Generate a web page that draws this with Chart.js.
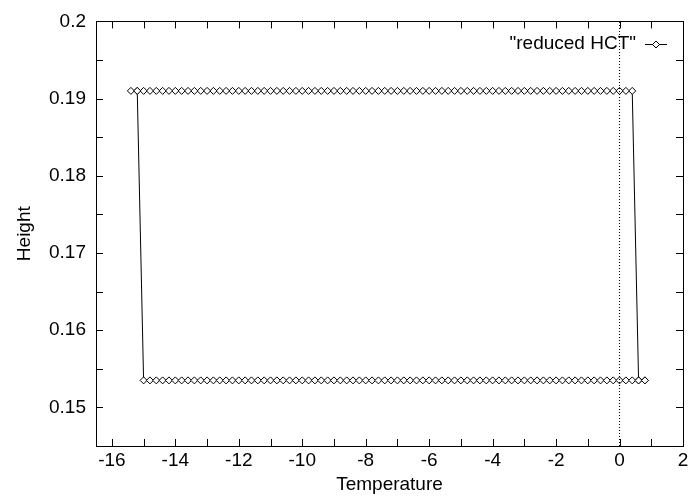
<!DOCTYPE html>
<html>
<head>
<meta charset="utf-8">
<script src="https://cdn.jsdelivr.net/npm/chart.js@4/dist/chart.umd.min.js"></script>
<style>
  html, body { margin: 0; padding: 0; background: #fff; }
  #wrap { width: 688px; height: 496px; }
</style>
</head>
<body>
<div id="wrap"><canvas id="c" width="688" height="496"></canvas></div>
<script>
// ---- data ----
const seriesLabel = '"reduced HCT"';
const xTitle = 'Temperature';
const yTitle = 'Height';

// cooling branch (from +0.8 down to -15.4)
const coolTemp = [0.8, 0.6, 0.4, 0.2, 0.0, -0.2, -0.4, -0.6, -0.8, -1.0,
  -1.2, -1.4, -1.6, -1.8, -2.0, -2.2, -2.4, -2.6, -2.8, -3.0,
  -3.2, -3.4, -3.6, -3.8, -4.0, -4.2, -4.4, -4.6, -4.8, -5.0,
  -5.2, -5.4, -5.6, -5.8, -6.0, -6.2, -6.4, -6.6, -6.8, -7.0,
  -7.2, -7.4, -7.6, -7.8, -8.0, -8.2, -8.4, -8.6, -8.8, -9.0,
  -9.2, -9.4, -9.6, -9.8, -10.0, -10.2, -10.4, -10.6, -10.8, -11.0,
  -11.2, -11.4, -11.6, -11.8, -12.0, -12.2, -12.4, -12.6, -12.8, -13.0,
  -13.2, -13.4, -13.6, -13.8, -14.0, -14.2, -14.4, -14.6, -14.8, -15.0,
  -15.2, -15.4];
const coolHeight = [0.1535, 0.1535, 0.191, 0.191, 0.191, 0.191, 0.191, 0.191, 0.191, 0.191,
  0.191, 0.191, 0.191, 0.191, 0.191, 0.191, 0.191, 0.191, 0.191, 0.191,
  0.191, 0.191, 0.191, 0.191, 0.191, 0.191, 0.191, 0.191, 0.191, 0.191,
  0.191, 0.191, 0.191, 0.191, 0.191, 0.191, 0.191, 0.191, 0.191, 0.191,
  0.191, 0.191, 0.191, 0.191, 0.191, 0.191, 0.191, 0.191, 0.191, 0.191,
  0.191, 0.191, 0.191, 0.191, 0.191, 0.191, 0.191, 0.191, 0.191, 0.191,
  0.191, 0.191, 0.191, 0.191, 0.191, 0.191, 0.191, 0.191, 0.191, 0.191,
  0.191, 0.191, 0.191, 0.191, 0.191, 0.191, 0.191, 0.191, 0.191, 0.191,
  0.191, 0.191];

// heating branch (from -15.2 up to +0.8)
const heatTemp = [-15.2, -15.0, -14.8, -14.6, -14.4, -14.2, -14.0, -13.8, -13.6, -13.4,
  -13.2, -13.0, -12.8, -12.6, -12.4, -12.2, -12.0, -11.8, -11.6, -11.4,
  -11.2, -11.0, -10.8, -10.6, -10.4, -10.2, -10.0, -9.8, -9.6, -9.4,
  -9.2, -9.0, -8.8, -8.6, -8.4, -8.2, -8.0, -7.8, -7.6, -7.4,
  -7.2, -7.0, -6.8, -6.6, -6.4, -6.2, -6.0, -5.8, -5.6, -5.4,
  -5.2, -5.0, -4.8, -4.6, -4.4, -4.2, -4.0, -3.8, -3.6, -3.4,
  -3.2, -3.0, -2.8, -2.6, -2.4, -2.2, -2.0, -1.8, -1.6, -1.4,
  -1.2, -1.0, -0.8, -0.6, -0.4, -0.2, 0.0, 0.2, 0.4, 0.6,
  0.8];
const heatHeight = [0.191, 0.1535, 0.1535, 0.1535, 0.1535, 0.1535, 0.1535, 0.1535, 0.1535, 0.1535,
  0.1535, 0.1535, 0.1535, 0.1535, 0.1535, 0.1535, 0.1535, 0.1535, 0.1535, 0.1535,
  0.1535, 0.1535, 0.1535, 0.1535, 0.1535, 0.1535, 0.1535, 0.1535, 0.1535, 0.1535,
  0.1535, 0.1535, 0.1535, 0.1535, 0.1535, 0.1535, 0.1535, 0.1535, 0.1535, 0.1535,
  0.1535, 0.1535, 0.1535, 0.1535, 0.1535, 0.1535, 0.1535, 0.1535, 0.1535, 0.1535,
  0.1535, 0.1535, 0.1535, 0.1535, 0.1535, 0.1535, 0.1535, 0.1535, 0.1535, 0.1535,
  0.1535, 0.1535, 0.1535, 0.1535, 0.1535, 0.1535, 0.1535, 0.1535, 0.1535, 0.1535,
  0.1535, 0.1535, 0.1535, 0.1535, 0.1535, 0.1535, 0.1535, 0.1535, 0.1535, 0.1535,
  0.1535];

// axis ranges / tick positions / tick labels
const xMin = -16.5, xMax = 2;
const xTicks = [-16, -15, -14, -13, -12, -11, -10, -9, -8, -7, -6, -5, -4, -3, -2, -1, 0, 1, 2];
const xTickLabels = ['-16', '', '-14', '', '-12', '', '-10', '', '-8', '', '-6', '', '-4', '', '-2', '', '0', '', '2'];
const yMin = 0.145, yMax = 0.2;
const yTicks = [0.15, 0.155, 0.16, 0.165, 0.17, 0.175, 0.18, 0.185, 0.19, 0.195, 0.2];
const yTickLabels = ['0.15', '', '0.16', '', '0.17', '', '0.18', '', '0.19', '', '0.2'];
const zeroLineX = 0;

// ---- build chart ----
const FONT = '"Liberation Sans", Arial, sans-serif';
const FS = 19;
Chart.defaults.font.family = FONT;
Chart.defaults.font.size = FS;
Chart.defaults.color = '#000';

const points = [];
coolTemp.forEach((t, i) => points.push({ x: t, y: coolHeight[i] }));
heatTemp.forEach((t, i) => points.push({ x: t, y: heatHeight[i] }));

const framePlugin = {
  id: 'frame',
  beforeDatasetsDraw(chart) {
    const { ctx, chartArea: a, scales: { x, y } } = chart;
    ctx.save();
    ctx.strokeStyle = '#000';
    ctx.lineWidth = 1;
    const TL = 7;
    ctx.beginPath();
    x.ticks.forEach(t => {
      const px = Math.round(x.getPixelForValue(t.value)) + 0.5;
      ctx.moveTo(px, a.bottom); ctx.lineTo(px, a.bottom - TL);
      ctx.moveTo(px, a.top); ctx.lineTo(px, a.top + TL);
    });
    y.ticks.forEach(t => {
      const py = Math.round(y.getPixelForValue(t.value)) + 0.5;
      ctx.moveTo(a.left, py); ctx.lineTo(a.left + TL, py);
      ctx.moveTo(a.right, py); ctx.lineTo(a.right - TL, py);
    });
    ctx.stroke();
    ctx.restore();
  },
  afterDraw(chart) {
    const { ctx, chartArea: a } = chart;
    ctx.save();
    ctx.strokeStyle = '#000';
    ctx.lineWidth = 1;
    ctx.strokeRect(Math.round(a.left) + 0.5, Math.round(a.top) + 0.5,
      Math.round(a.right - a.left), Math.round(a.bottom - a.top));
    // legend (gnuplot style: text then sample)
    const ly = 44;
    const textRight = a.right - 47;
    ctx.font = FS + 'px ' + FONT;
    ctx.fillStyle = '#000';
    ctx.textAlign = 'right';
    ctx.textBaseline = 'middle';
    ctx.fillText(seriesLabel, textRight, ly);
    const s0 = textRight + 9, s1 = textRight + 31;
    ctx.beginPath();
    ctx.moveTo(s0, ly + 0.5); ctx.lineTo(s1, ly + 0.5);
    ctx.stroke();
    const cx = (s0 + s1) / 2, r = 3.5;
    ctx.beginPath();
    ctx.moveTo(cx, ly + 0.5 - r); ctx.lineTo(cx + r, ly + 0.5);
    ctx.lineTo(cx, ly + 0.5 + r); ctx.lineTo(cx - r, ly + 0.5);
    ctx.closePath();
    ctx.fillStyle = '#fff';
    ctx.fill();
    ctx.stroke();
    ctx.restore();
  }
};

const labelFor = (vals, labels) => v => {
  const i = vals.findIndex(t => Math.abs(t - v) < 1e-9);
  return i >= 0 ? labels[i] : '';
};

new Chart(document.getElementById('c'), {
  type: 'line',
  data: {
    datasets: [
      {
        label: 'zero',
        data: [{ x: zeroLineX, y: yMin }, { x: zeroLineX, y: yMax }],
        borderColor: '#000',
        borderWidth: 1,
        borderDash: [1, 2],
        pointRadius: 0,
        fill: false
      },
      {
        label: seriesLabel,
        data: points,
        borderColor: '#000',
        borderWidth: 1,
        pointStyle: 'rectRot',
        pointRadius: 3.5,
        pointBorderWidth: 1,
        pointBorderColor: '#000',
        pointBackgroundColor: '#fff',
        tension: 0,
        fill: false
      }
    ]
  },
  options: {
    responsive: false,
    animation: false,
    events: [],
    layout: { padding: { top: 16, right: 4, left: 0, bottom: 0 } },
    plugins: { legend: { display: false }, tooltip: { enabled: false } },
    scales: {
      x: {
        type: 'linear',
        min: xMin, max: xMax,
        bounds: 'data',
        grid: { display: false, drawTicks: false },
        border: { display: false },
        afterBuildTicks: s => { s.ticks = xTicks.map(v => ({ value: v })); },
        ticks: {
          autoSkip: false,
          maxRotation: 0,
          padding: 3,
          callback: labelFor(xTicks, xTickLabels)
        },
        title: { display: true, text: xTitle, padding: { top: 7, bottom: 0 } },
        afterFit: s => { s.height = 50; s.paddingRight = 4; s.paddingLeft = 0; }
      },
      y: {
        type: 'linear',
        min: yMin, max: yMax,
        bounds: 'data',
        grid: { display: false, drawTicks: false },
        border: { display: false },
        afterBuildTicks: s => { s.ticks = yTicks.map(v => ({ value: v })); },
        ticks: {
          autoSkip: false,
          padding: 10,
          callback: labelFor(yTicks, yTickLabels)
        },
        title: { display: true, text: yTitle, padding: { top: 13, bottom: 0 } },
        afterFit: s => { s.width = 96; }
      }
    }
  },
  plugins: [framePlugin]
});
</script>
</body>
</html>
